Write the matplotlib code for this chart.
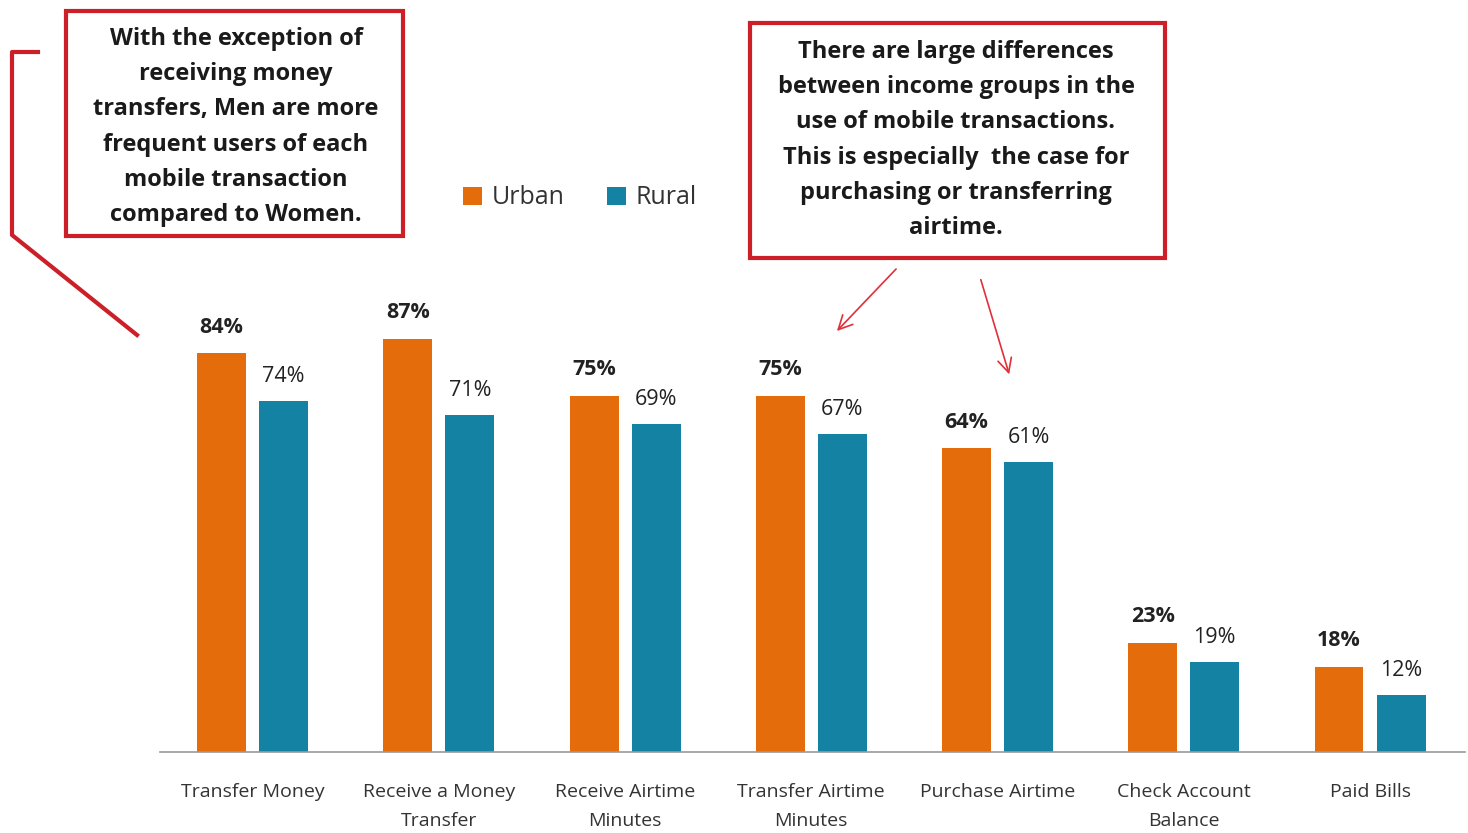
import matplotlib
matplotlib.use("Agg")
import matplotlib.pyplot as plt
import numpy as np
from matplotlib.patches import Rectangle, FancyArrowPatch
from matplotlib.lines import Line2D

plt.rcParams['font.family'] = ['Open Sans', 'DejaVu Sans']

categories = ['Transfer Money', 'Receive a Money\nTransfer', 'Receive Airtime\nMinutes',
              'Transfer Airtime\nMinutes', 'Purchase Airtime', 'Check Account\nBalance', 'Paid Bills']
urban = [84, 87, 75, 75, 64, 23, 18]
rural = [74, 71, 69, 67, 61, 19, 12]

orange = '#E46C0A'
teal = '#1482A2'
red = '#CC1F27'

W, H = 1468, 833
fig = plt.figure(figsize=(W / 100, H / 100), dpi=100)

# main bar axes, 100% = 475 px above the baseline
ax = fig.add_axes([160 / W, 1 - 752 / H, 1305 / W, 475 / H])
x = np.arange(len(categories))
off = 0.1665
bw = 0.263
b1 = ax.bar(x - off, urban, bw, color=orange, label='Urban')
b2 = ax.bar(x + off, rural, bw, color=teal, label='Rural')
ax.bar_label(b1, labels=[f'{v}%' for v in urban], padding=11, fontsize=15.5,
             fontweight='bold', color='#222222')
ax.bar_label(b2, labels=[f'{v}%' for v in rural], padding=10, fontsize=15.5,
             color='#222222')

ax.set_xlim(-0.497, 6.51)
ax.set_ylim(0, 100)
ax.set_xticks(x)
ax.set_xticklabels(categories, fontsize=14, color='#333333', linespacing=1.85)
ax.tick_params(axis='x', length=0, pad=22)
ax.set_yticks([])
for s in ['top', 'right', 'left']:
    ax.spines[s].set_visible(False)
ax.spines['bottom'].set_color('#9a9a9a')
ax.spines['bottom'].set_linewidth(1.2)

leg = fig.legend(handles=[b1, b2], loc='center', bbox_to_anchor=(580 / W, 1 - 198 / H),
                 ncol=2, frameon=False, fontsize=18, handlelength=0.75, handleheight=0.75,
                 handletextpad=0.4, columnspacing=1.7)
for t in leg.get_texts():
    t.set_color('#333333')

# overlay in pixel coordinates for the callouts
ov = fig.add_axes([0, 0, 1, 1], zorder=5)
ov.set_xlim(0, W)
ov.set_ylim(H, 0)
ov.axis('off')
ov.patch.set_alpha(0)

ov.add_patch(Rectangle((66, 11), 337, 225, fill=False, ec=red, lw=3))
ov.text(236, 127, 'With the exception of\nreceiving money\ntransfers, Men are more\n'
        'frequent users of each\nmobile transaction\ncompared to Women.',
        ha='center', va='center', fontsize=17, fontweight='bold', color='#1a1a1a',
        linespacing=1.63)
ov.add_line(Line2D([38, 12, 12, 137], [52, 52, 235, 335], color=red, lw=3))

ov.add_patch(Rectangle((750, 23), 415, 235, fill=False, ec=red, lw=3))
ov.text(956, 140, 'There are large differences\nbetween income groups in the\n'
        'use of mobile transactions.\nThis is especially  the case for\n'
        'purchasing or transferring\nairtime.',
        ha='center', va='center', fontsize=17, fontweight='bold', color='#1a1a1a',
        linespacing=1.63)
for (x0, y0), (x1, y1) in [((898, 267), (835, 333)), ((980, 277), (1010, 377))]:
    ov.add_patch(FancyArrowPatch((x0, y0), (x1, y1), arrowstyle='->,head_length=10,head_width=5',
                                 color='#E0303A', lw=1.2))

fig.savefig('out.png', dpi=100, facecolor='white')
